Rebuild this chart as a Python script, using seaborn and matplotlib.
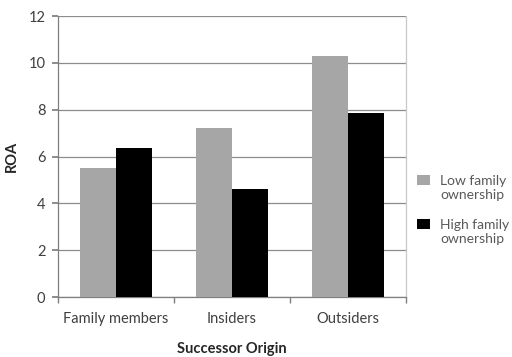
import matplotlib
matplotlib.use("Agg")
import matplotlib.pyplot as plt
import seaborn as sns
import pandas as pd
from matplotlib.patches import Patch, Rectangle
from matplotlib.legend_handler import HandlerPatch

categories = ["Family members", "Insiders", "Outsiders"]
low_family = [5.5, 7.2, 10.3]
high_family = [6.35, 4.6, 7.85]
series_names = ["Low family\nownership", "High family\nownership"]
yticks = [0, 2, 4, 6, 8, 10, 12]

df = pd.DataFrame({
    "cat": categories * 2,
    "val": low_family + high_family,
    "series": [series_names[0]] * 3 + [series_names[1]] * 3,
})

sns.set_theme(style="white")
plt.rcParams["font.family"] = ["Lato", "DejaVu Sans"]

fig = plt.figure(figsize=(5.12, 3.57), dpi=100)
ax = fig.add_axes([0.113, 0.168, 0.68, 0.787])
colors = ["#a6a6a6", "#000000"]
sns.barplot(data=df, x="cat", y="val", hue="series", palette=colors,
            width=0.62, ax=ax, legend=False, saturation=1, linewidth=0, zorder=3)

ax.set_ylim(0, 12)
ax.set_xlim(-0.5, 2.5)
ax.set_yticks(yticks)
ax.yaxis.grid(True, color="#8c8c8c", linewidth=0.9, zorder=0)
ax.set_axisbelow(True)
ax.spines["top"].set_visible(False)
for s in ["left", "bottom", "right"]:
    ax.spines[s].set_color("#7f7f7f")
    ax.spines[s].set_linewidth(0.9)
ax.spines["right"].set_color("#c8c8c8")

ax.set_xticks([0, 1, 2])
ax.set_xticklabels(categories)
ax.set_xticks([-0.5, 0.5, 1.5, 2.5], minor=True)
ax.tick_params(axis="x", which="major", length=0, pad=11, labelsize=10.5, labelcolor="#404040")
ax.tick_params(axis="x", which="minor", length=4, color="#7f7f7f", direction="out", bottom=True)
ax.tick_params(axis="y", length=4, color="#7f7f7f", direction="out", left=True, labelsize=10.5, labelcolor="#404040", pad=5)

ax.set_xlabel("Successor Origin", fontsize=10.5, fontweight="bold", color="#262626", labelpad=11)
ax.set_ylabel("ROA", fontsize=10.5, fontweight="bold", color="#262626", labelpad=7)


def raised_square(legend, orig_handle, xdescent, ydescent, width, height, fontsize):
    return Rectangle((-xdescent, -ydescent + 0.58 * fontsize), width, height)


handles = [Patch(facecolor=c, edgecolor="none") for c in colors]
fig.legend(handles, series_names, loc="upper left", bbox_to_anchor=(0.79, 0.545),
           frameon=False, fontsize=10, labelcolor="#595959", handlelength=0.95,
           handleheight=0.8, handletextpad=0.7, labelspacing=1.3,
           handler_map={Patch: HandlerPatch(patch_func=raised_square)})

fig.savefig("out.png", dpi=100)
